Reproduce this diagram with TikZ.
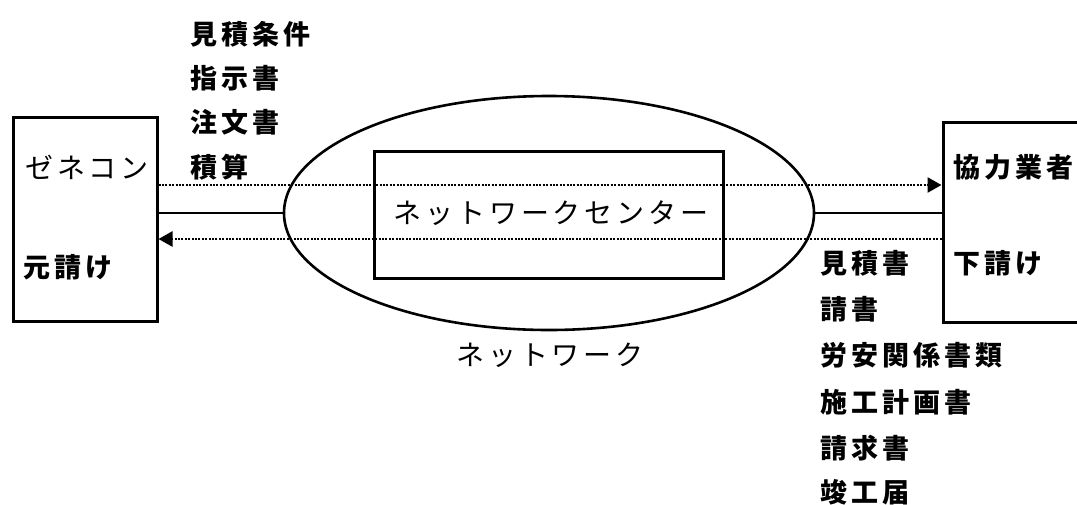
\documentclass[tikz,border=0pt]{standalone}
\usepackage{fontspec}
\newfontfamily\jpfont[LetterSpace=15]{Noto Sans CJK JP}
\newfontfamily\kanafont[LetterSpace=14]{Noto Sans CJK JP}
\usetikzlibrary{arrows.meta,shapes.geometric,positioning}

\begin{document}
\begin{tikzpicture}[x=1pt,y=-1pt,
  box/.style={draw,line width=3pt,inner sep=0pt},
  lbl/.style={anchor=west,inner sep=0pt,font=\jpfont\fontsize{27}{30}\selectfont\bfseries},
  kana/.style={inner sep=0pt,font=\kanafont\fontsize{28}{30}\selectfont},
  dotline/.style={line width=2.6pt,dash pattern=on 2pt off 1.4pt},
  link/.style={line width=2.6pt},
  tip/.style={-{Triangle[length=14pt,width=15pt]}}]
\useasboundingbox (0,0) rectangle (1077,504);

\node[box,minimum width=144pt,minimum height=204pt] (GeneCon) at (85,219) {};
\node[box,minimum width=158pt,minimum height=200pt] (Kyoryoku) at (1022,222) {};
\node[draw,ellipse,line width=2.6pt,inner sep=0pt,minimum width=530pt,minimum height=234pt] (Network) at (549,213) {};
\node[box,minimum width=349pt,minimum height=127pt] (Center) at (548.5,214.5) {};

\coordinate (Up) at (0,185);
\coordinate (Down) at (0,239);

\draw[dotline,tip] (GeneCon.east |- Up) -- (Kyoryoku.west |- Up);
\draw[dotline,tip] (Kyoryoku.west |- Down) -- (GeneCon.east |- Down);
\draw[link] (GeneCon.east |- Network.west) -- (Network.west);
\draw[link] (Network.east) -- (Kyoryoku.west |- Network.east);

\node[kana] (CenterName) at (551,213) {ネットワークセンター};
\node[kana] (NetworkName) at (550,355) {ネットワーク};

\node[kana,anchor=west] (GeneConName) at (25,167) {ゼネコン};
\node[lbl] (Motouke) at (23,267) {元請け};
\node[lbl] (KyoryokuName) at (953,167) {協力業者};
\node[lbl] (Shitauke) at (953,263) {下請け};

\node[lbl] (Mitsumori) at (190,34) {見積条件};
\node[lbl] (Shiji) at (190,78) {指示書};
\node[lbl] (Chumon) at (190,122) {注文書};
\node[lbl] (Sekisan) at (190,167) {積算};

\node[lbl] (MitsumoriSho) at (820,263) {見積書};
\node[lbl] (Ukesho) at (820,309) {請書};
\node[lbl] (Roan) at (820,355) {労安関係書類};
\node[lbl] (Seko) at (820,402) {施工計画書};
\node[lbl] (Seikyu) at (820,448) {請求書};
\node[lbl] (Shunko) at (820,492) {竣工届};
\end{tikzpicture}
\end{document}
